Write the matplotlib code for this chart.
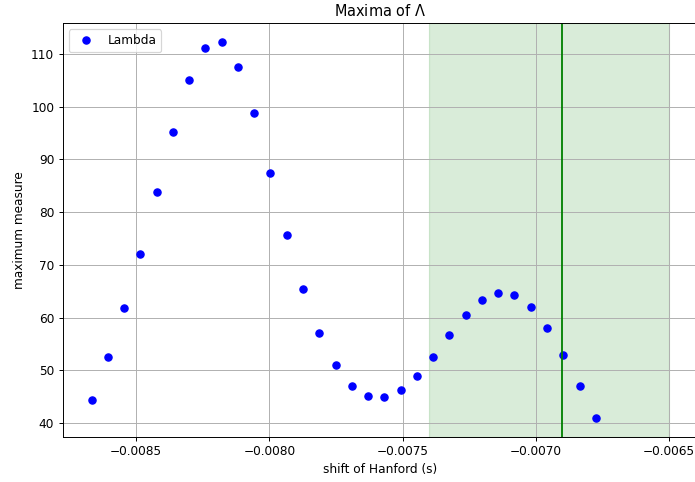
import numpy as np
import matplotlib
matplotlib.use("Agg")
import matplotlib.pyplot as plt

# time shifts in samples at 16384 Hz
sample_rate = 16384
shift_samples = list(range(-142, -110))
shifts = [k / sample_rate for k in shift_samples]

lambda_max = [44.47, 52.63, 61.86, 72.15, 83.79, 95.17, 104.95, 111.15,
              112.23, 107.6, 98.7, 87.45, 75.75, 65.4, 57.12, 51.05,
              47.13, 45.18, 44.93, 46.26, 48.97, 52.63, 56.74, 60.53,
              63.37, 64.76, 64.38, 62.1, 58.12, 52.95, 47.0, 41.0]

window_lo, window_hi = -0.0074, -0.0065
best_shift = -0.0069

dpi = 87
fig = plt.figure(figsize=(695 / dpi, 482 / dpi), dpi=dpi)
ax = fig.add_axes([0.0902, 0.094, 0.914, 0.8577])

ax.plot(shifts, lambda_max, "bo", label="Lambda")
ax.axvspan(window_lo, window_hi, color="g", alpha=0.15)
ax.axvline(best_shift, color="g", linewidth=1.5)

ax.set_title(r"Maxima of $\Lambda$")
ax.set_xlabel("shift of Hanford (s)")
ax.set_ylabel("maximum measure")
ax.legend(loc="upper left")
ax.grid(True)

fig.savefig("out.png", dpi=dpi)
